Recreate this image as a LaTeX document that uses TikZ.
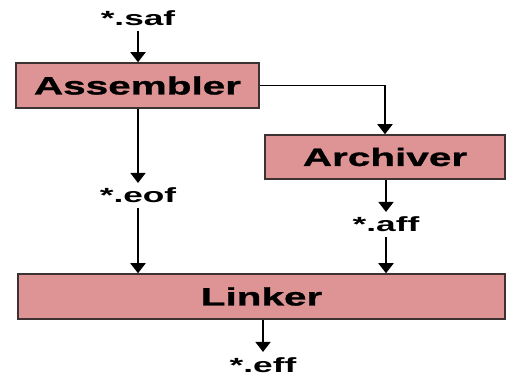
\documentclass[tikz,border=0pt]{standalone}
\usepackage{fontspec}
\usetikzlibrary{arrows.meta}
\newfontfamily\widebold{Liberation Sans Bold}[FakeStretch=1.72]
\newfontfamily\boxbold{Liberation Sans Bold}[FakeStretch=1.62, FakeBold=1.2]
\definecolor{boxpink}{RGB}{222,148,148}
\definecolor{boxline}{RGB}{60,50,50}
\tikzset{
  procbox/.style={draw=boxline, line width=1.5pt, fill=boxpink, inner sep=0pt,
    font=\boxbold\fontsize{25}{26}\selectfont},
  filelbl/.style={anchor=base, inner xsep=2pt, inner ysep=5pt, text depth=0pt,
    font=\widebold\fontsize{20.5}{21}\selectfont},
  arr/.style={line width=1.8pt, -{Triangle[length=10pt,width=15pt]}}
}
\begin{document}
\begin{tikzpicture}[x=1pt,y=-1pt]
\useasboundingbox (0,0) rectangle (506,379);
\node[procbox, minimum width=243pt, minimum height=45pt] (asm) at (137.5,85.5) {Assembler};
\node[procbox, minimum width=240pt, minimum height=44pt] (arc) at (385,157) {Archiver};
\node[procbox, minimum width=487pt, minimum height=45pt] (lnk) at (261.5,296.5) {Linker};
\node[filelbl] (saf) at (138,26) {*.saf};
\node[filelbl] (eof) at (138,203) {*.eof};
\node[filelbl] (aff) at (386,232) {*.aff};
\node[filelbl] (eff) at (263,372) {*.eff};
\draw[arr] (saf.south) -- (saf.south |- asm.north);
\draw[arr] (asm.east) -| (arc.north);
\draw[arr] (asm.south -| eof.north) -- (eof.north);
\draw[arr] (eof.south) -- (eof.south |- lnk.north);
\draw[arr] (arc.south -| aff.north) -- (aff.north);
\draw[arr] (aff.south) -- (aff.south |- lnk.north);
\draw[arr] (lnk.south -| eff.north) -- (eff.north);
\end{tikzpicture}
\end{document}
